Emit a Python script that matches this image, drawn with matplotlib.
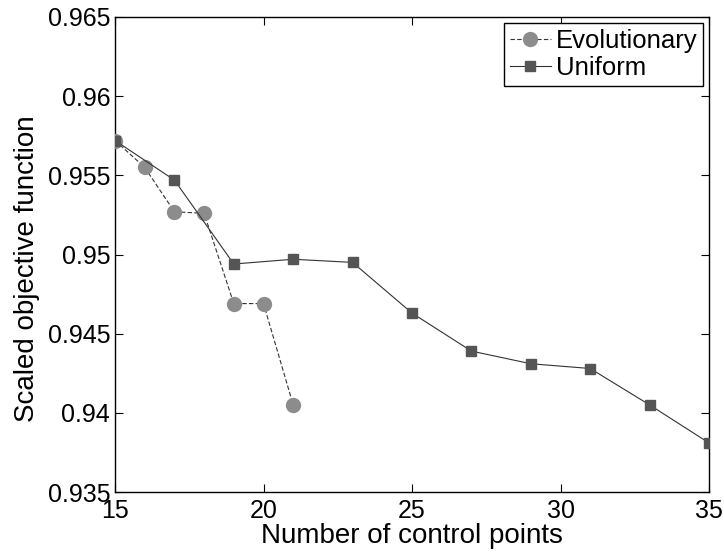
import matplotlib
matplotlib.use("Agg")
import matplotlib.pyplot as plt

plt.rcParams['font.family'] = ['Liberation Sans', 'DejaVu Sans']

evo_x = [15, 16, 17, 18, 19, 20, 21]
evo_y = [0.9572, 0.9555, 0.9527, 0.9526, 0.9469, 0.9469, 0.9405]
uni_x = [15, 17, 19, 21, 23, 25, 27, 29, 31, 33, 35]
uni_y = [0.9572, 0.9547, 0.9494, 0.9497, 0.9495, 0.9463, 0.9439, 0.9431, 0.9428, 0.9405, 0.9381]
xticks = [15, 20, 25, 30, 35]
yticks = [0.935, 0.94, 0.945, 0.95, 0.955, 0.96, 0.965]
ytick_labels = ['0.935', '0.94', '0.945', '0.95', '0.955', '0.96', '0.965']

W, H = 724, 554
fig = plt.figure(figsize=(W / 100, H / 100), dpi=100)
left, right, top, bottom = 115, 709, 17, 492
ax = fig.add_axes([left / W, (H - bottom) / H, (right - left) / W, (bottom - top) / H])

ax.plot(evo_x, evo_y, linestyle='--', color='#333333', linewidth=0.8,
        dashes=(4, 2), marker='o', markersize=10, markerfacecolor='#8c8c8c',
        markeredgecolor='#8c8c8c', label='Evolutionary', zorder=3)
ax.plot(uni_x, uni_y, linestyle='-', color='#333333', linewidth=0.8,
        marker='s', markersize=7.5, markerfacecolor='#555555',
        markeredgecolor='#555555', label='Uniform', zorder=3)

ax.set_xlim(15, 35)
ax.set_ylim(0.935, 0.965)
ax.set_xticks(xticks)
ax.set_xticklabels([str(t) for t in xticks])
ax.set_yticks(yticks)
ax.set_yticklabels(ytick_labels)
ax.tick_params(direction='in', top=True, right=True, labelsize=18, length=6)
ax.tick_params(axis='x', pad=5)
ax.tick_params(axis='y', pad=3.5)
for s in ax.spines.values():
    s.set_linewidth(1.0)
ax.set_xlabel('Number of control points', fontsize=20, labelpad=0)
ax.set_ylabel('Scaled objective function', fontsize=20)
ax.yaxis.set_label_coords((40 - left) / (right - left), 0.47)

leg = ax.legend(loc='upper right', fontsize=18.5, frameon=True, fancybox=False,
                edgecolor='black', borderaxespad=0.25, handlelength=1.6,
                handletextpad=0.2, borderpad=0.2, labelspacing=0.15,
                framealpha=1)
leg.get_frame().set_linewidth(1.0)

fig.savefig('out.png', dpi=100)
